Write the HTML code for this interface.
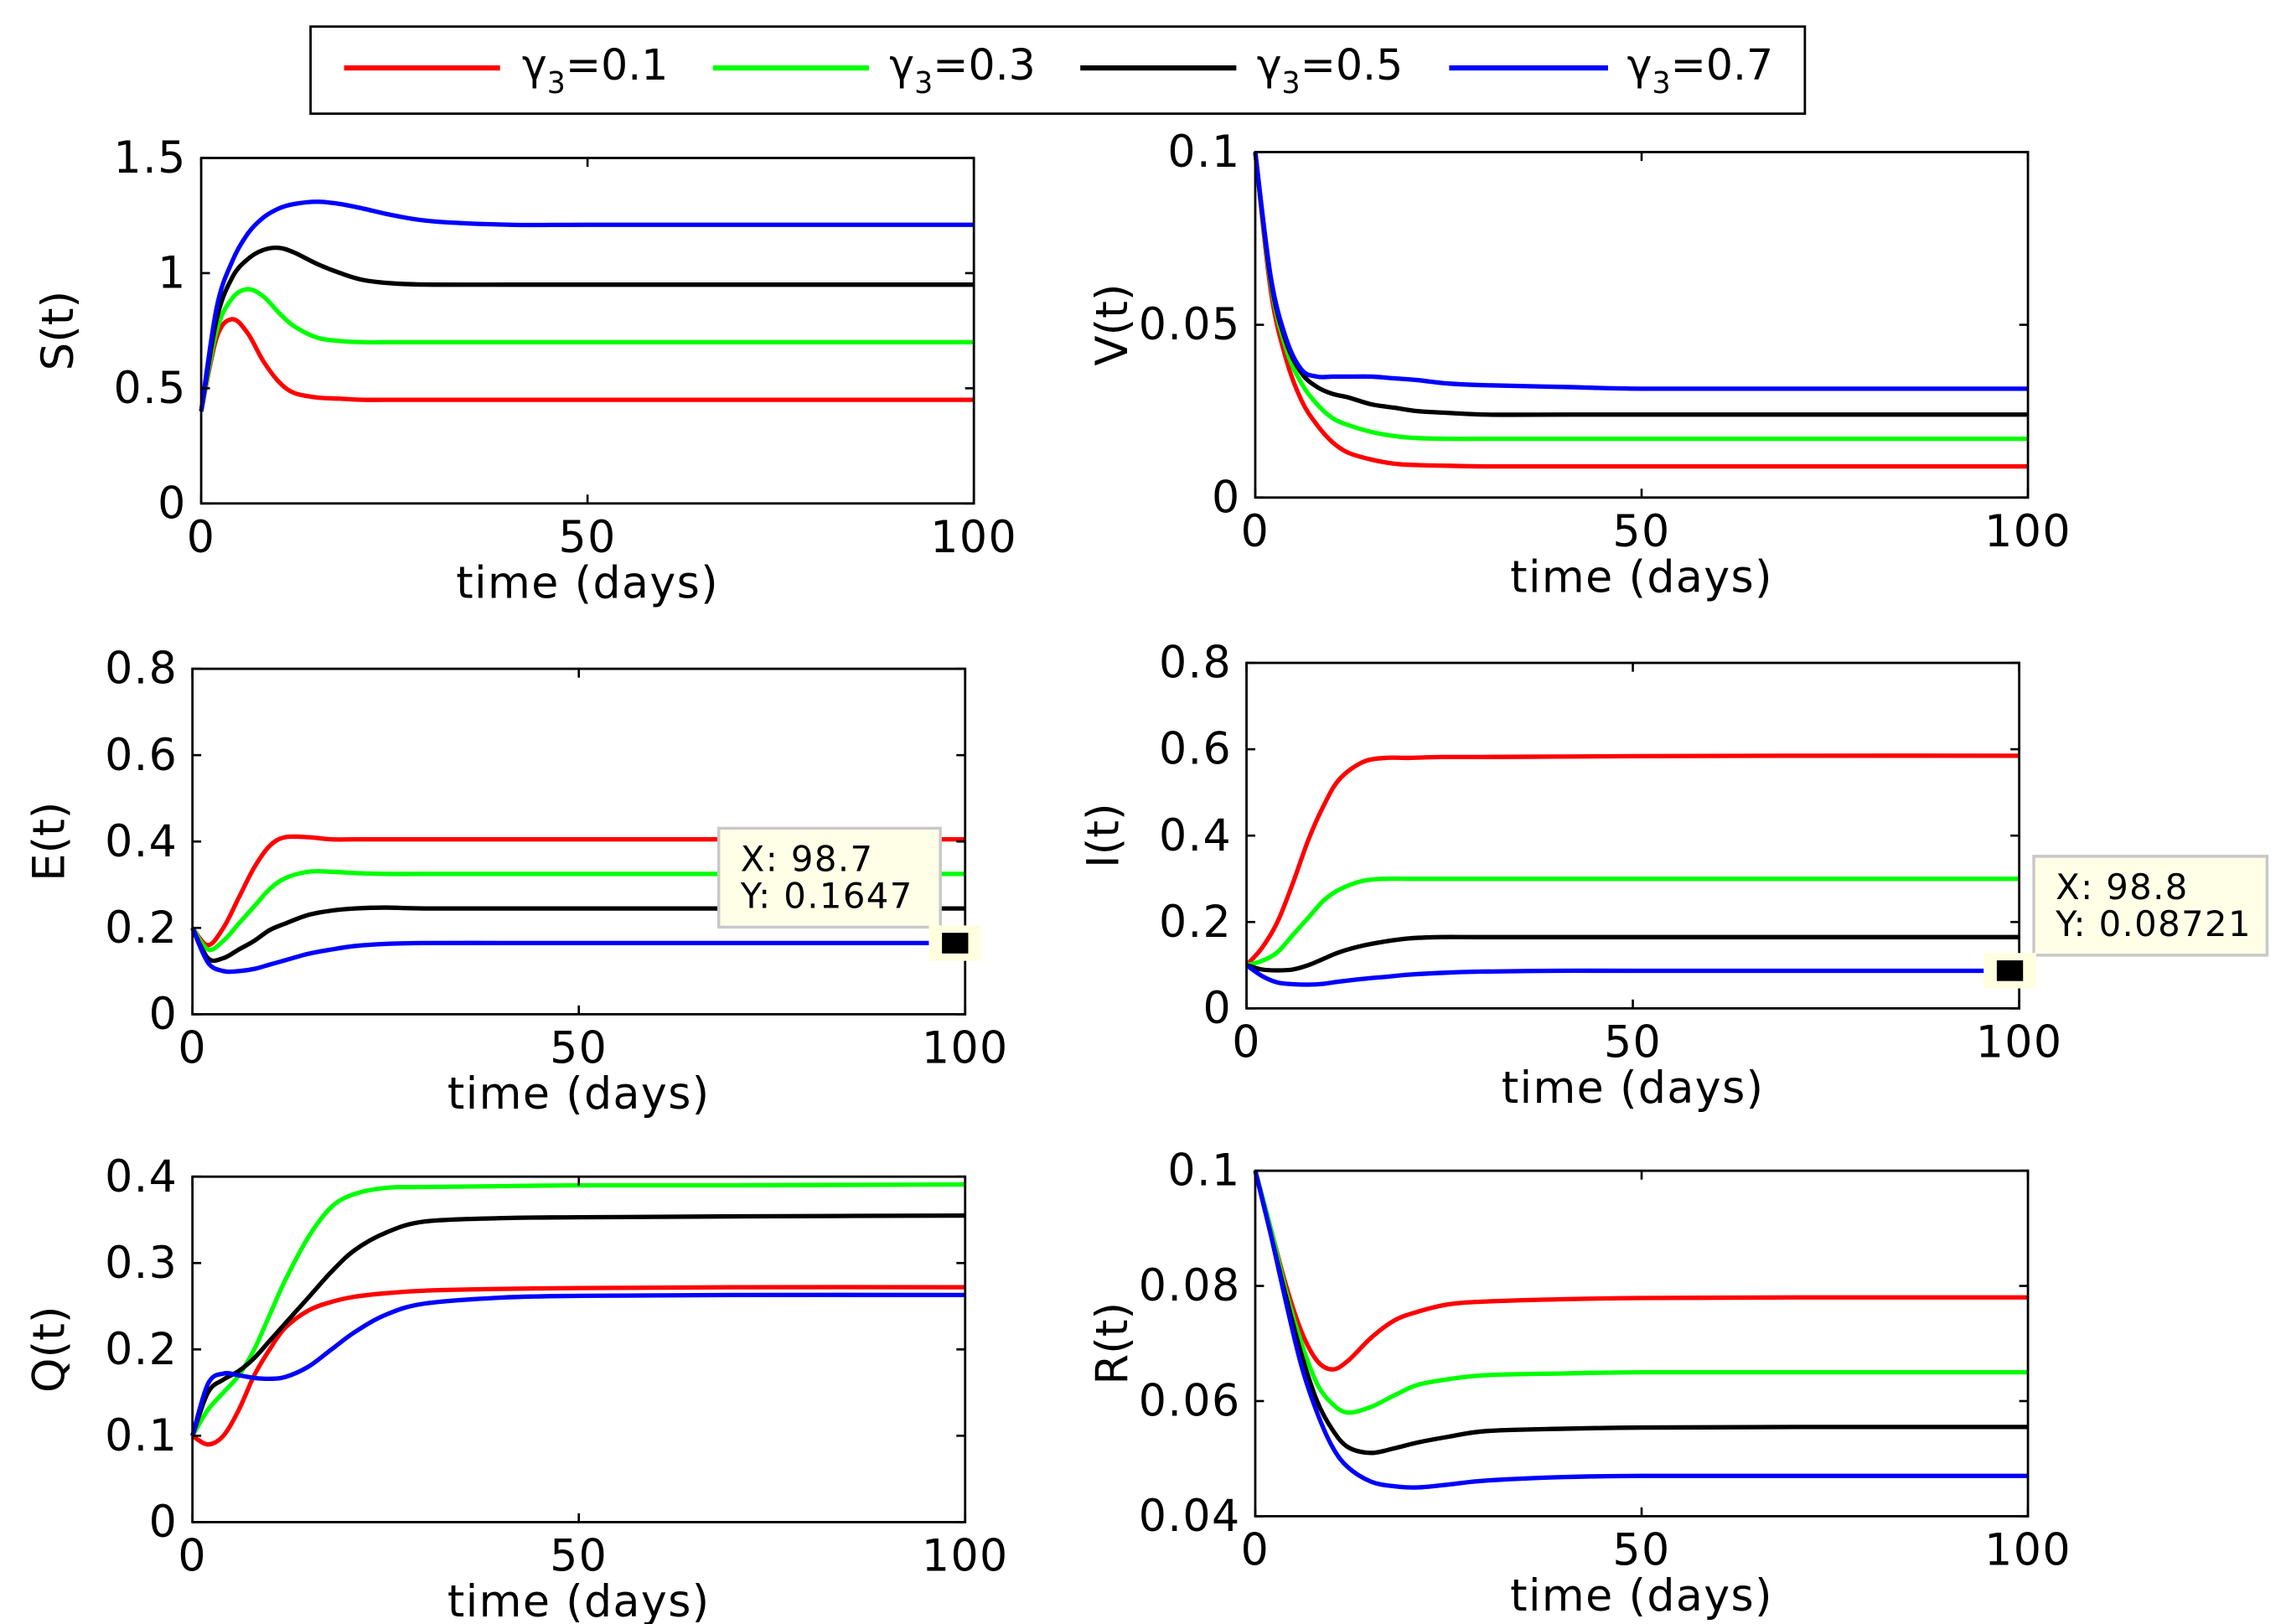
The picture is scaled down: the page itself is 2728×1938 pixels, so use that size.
<!DOCTYPE html>
<html><head><meta charset="utf-8"><style>
html,body{margin:0;padding:0;background:#fff;}
svg{display:block;}
text{font-family:"DejaVu Sans","Liberation Sans",sans-serif;fill:#000;}
</style></head><body>
<svg id="fig" width="2728" height="1938" viewBox="0 0 1568 1100" preserveAspectRatio="none" xmlns="http://www.w3.org/2000/svg">
<g id="legend">
<rect x="213" y="18" width="1025" height="59" fill="#fff" stroke="#000" stroke-width="1.6"/>
<line x1="236" y1="46" x2="343" y2="46" stroke="#ff0000" stroke-width="3.5"/>
<text x="358" y="54" font-size="29">γ<tspan font-size="20" dy="9">3</tspan><tspan dy="-9">=0.1</tspan></text>
<line x1="489" y1="46" x2="596" y2="46" stroke="#00ff00" stroke-width="3.5"/>
<text x="610" y="54" font-size="29">γ<tspan font-size="20" dy="9">3</tspan><tspan dy="-9">=0.3</tspan></text>
<line x1="741" y1="46" x2="848" y2="46" stroke="#000000" stroke-width="3.5"/>
<text x="862" y="54" font-size="29">γ<tspan font-size="20" dy="9">3</tspan><tspan dy="-9">=0.5</tspan></text>
<line x1="994" y1="46" x2="1103" y2="46" stroke="#0000ff" stroke-width="3.5"/>
<text x="1116" y="54" font-size="29">γ<tspan font-size="20" dy="9">3</tspan><tspan dy="-9">=0.7</tspan></text>
</g>
</svg>
<script>
const tDays=[0,2,4,6,8,10,12,15,18,21,25,30,40,50,70,100];
const colors=["#ff0000","#00ff00","#000000","#0000ff"];
const seriesNames=["gamma-0.1","gamma-0.3","gamma-0.5","gamma-0.7"];
const xTicks=[0,50,100];
const sTicks=[0,0.5,1,1.5];
const vTicks=[0,0.05,0.1];
const eTicks=[0,0.2,0.4,0.6,0.8];
const qTicks=[0,0.1,0.2,0.3,0.4];
const rTicks=[0.04,0.06,0.08,0.1];
const sRed=[0.4,0.72,0.8,0.74,0.62,0.53,0.48,0.46,0.455,0.45,0.45,0.45,0.45,0.45,0.45,0.45];
const sGreen=[0.4,0.75,0.89,0.93,0.9,0.83,0.77,0.72,0.705,0.7,0.7,0.7,0.7,0.7,0.7,0.7];
const sBlack=[0.4,0.8,0.98,1.06,1.1,1.11,1.09,1.04,1.0,0.97,0.955,0.95,0.95,0.95,0.95,0.95];
const sBlue=[0.4,0.85,1.05,1.17,1.24,1.28,1.3,1.31,1.3,1.28,1.25,1.225,1.21,1.21,1.21,1.21];
const vRed=[0.1,0.06,0.04,0.028,0.021,0.016,0.013,0.011,0.0098,0.0094,0.0092,0.009,0.009,0.009,0.009,0.009];
const vGreen=[0.1,0.062,0.043,0.033,0.027,0.023,0.021,0.019,0.0178,0.0172,0.017,0.017,0.017,0.017,0.017,0.017];
const vBlack=[0.1,0.063,0.045,0.036,0.032,0.03,0.029,0.027,0.026,0.025,0.0245,0.024,0.024,0.024,0.024,0.024];
const vBlue=[0.1,0.064,0.046,0.037,0.035,0.035,0.035,0.035,0.0345,0.034,0.033,0.0325,0.032,0.0315,0.0315,0.0315];
const eRed=[0.2,0.16,0.2,0.27,0.34,0.39,0.41,0.41,0.405,0.405,0.405,0.405,0.405,0.405,0.405,0.405];
const eGreen=[0.2,0.15,0.17,0.21,0.25,0.29,0.315,0.33,0.33,0.327,0.325,0.325,0.325,0.325,0.325,0.325];
const eBlack=[0.2,0.13,0.13,0.15,0.17,0.195,0.21,0.23,0.24,0.245,0.247,0.245,0.245,0.245,0.245,0.245];
const eBlue=[0.2,0.12,0.1,0.1,0.105,0.115,0.125,0.14,0.15,0.158,0.163,0.165,0.165,0.165,0.165,0.165];
const iRed=[0.1,0.14,0.2,0.29,0.39,0.47,0.53,0.57,0.58,0.58,0.582,0.582,0.583,0.584,0.585,0.585];
const iGreen=[0.1,0.11,0.13,0.17,0.21,0.25,0.275,0.295,0.3,0.3,0.3,0.3,0.3,0.3,0.3,0.3];
const iBlack=[0.1,0.09,0.088,0.09,0.1,0.115,0.13,0.145,0.155,0.162,0.165,0.165,0.165,0.165,0.165,0.165];
const iBlue=[0.1,0.075,0.06,0.056,0.055,0.057,0.062,0.068,0.073,0.078,0.082,0.085,0.087,0.087,0.087,0.087];
const qRed=[0.1,0.09,0.1,0.13,0.17,0.2,0.225,0.245,0.255,0.261,0.265,0.268,0.27,0.271,0.272,0.272];
const qGreen=[0.1,0.13,0.15,0.17,0.2,0.24,0.28,0.33,0.365,0.38,0.387,0.388,0.389,0.39,0.39,0.391];
const qBlack=[0.1,0.15,0.165,0.175,0.19,0.21,0.23,0.26,0.29,0.315,0.335,0.348,0.352,0.353,0.354,0.355];
const qBlue=[0.1,0.16,0.172,0.17,0.167,0.166,0.168,0.18,0.2,0.22,0.24,0.253,0.26,0.262,0.263,0.263];
const rRed=[0.1,0.09,0.08,0.072,0.067,0.0655,0.067,0.071,0.074,0.0755,0.0768,0.0773,0.0777,0.0779,0.078,0.078];
const rGreen=[0.1,0.09,0.079,0.07,0.063,0.0595,0.058,0.059,0.061,0.0628,0.0638,0.0645,0.0648,0.065,0.065,0.065];
const rBlack=[0.1,0.089,0.078,0.068,0.06,0.055,0.052,0.051,0.0518,0.0528,0.0538,0.0548,0.0552,0.0554,0.0555,0.0555];
const rBlue=[0.1,0.089,0.077,0.066,0.058,0.052,0.0485,0.046,0.0452,0.045,0.0455,0.0462,0.0468,0.047,0.047,0.047];

const NS="http://www.w3.org/2000/svg";
const fig=document.getElementById('fig');
function mk(tag,attrs,parent){const e=document.createElementNS(NS,tag);for(const k in attrs)e.setAttribute(k,attrs[k]);parent.appendChild(e);return e;}
function smoothPath(pts){let d="M"+pts[0][0].toFixed(2)+","+pts[0][1].toFixed(2);
 for(let i=0;i<pts.length-1;i++){const p0=pts[i-1]||pts[i],p1=pts[i],p2=pts[i+1],p3=pts[i+2]||p2;
  const c1=[p1[0]+(p2[0]-p0[0])/6,p1[1]+(p2[1]-p0[1])/6],c2=[p2[0]-(p3[0]-p1[0])/6,p2[1]-(p3[1]-p1[1])/6];
  d+=" C"+c1[0].toFixed(2)+","+c1[1].toFixed(2)+" "+c2[0].toFixed(2)+","+c2[1].toFixed(2)+" "+p2[0].toFixed(2)+","+p2[1].toFixed(2);}
 return d;}
function panel(cfg){
 const g=mk('g',{},fig);
 
 
 const {x0,x1,y0,y1,ymin,ymax}=cfg;
 const xs=v=>x0+(v-0)/100*(x1-x0);
 const ys=v=>y1-(v-ymin)/(ymax-ymin)*(y1-y0);
 cfg.series.forEach((arr,si)=>{
  const pts=tDays.map((t,i)=>[xs(t),ys(arr[i])]);
  const p=mk('path',{d:smoothPath(pts),fill:'none',stroke:colors[si],'stroke-width':3,'stroke-linejoin':'round'},g);
  
  
 });
 const box=mk('rect',{x:x0,y:y0,width:x1-x0,height:y1-y0,fill:'none',stroke:'#000','stroke-width':1.6},g);
 
 
 xTicks.forEach(v=>{const x=xs(v);
  mk('line',{x1:x,y1:y1,x2:x,y2:y1-6,stroke:'#000','stroke-width':1.5},g);
  mk('line',{x1:x,y1:y0,x2:x,y2:y0+6,stroke:'#000','stroke-width':1.5},g);
  const t=mk('text',{x:x,y:y1+33,'font-size':30,'letter-spacing':0.8,'text-anchor':'middle'},g);t.textContent=String(v);
  
  });
 cfg.ticks.forEach(v=>{const y=ys(v);
  mk('line',{x1:x0,y1:y,x2:x0+6,y2:y,stroke:'#000','stroke-width':1.5},g);
  mk('line',{x1:x1,y1:y,x2:x1-6,y2:y,stroke:'#000','stroke-width':1.5},g);
  const t=mk('text',{x:x0-10,y:y+10,'font-size':30,'letter-spacing':0.8,'text-anchor':'end'},g);t.textContent=String(v);
  
  });
 const xl=mk('text',{x:(x0+x1)/2,y:y1+64,'font-size':30,'letter-spacing':0.8,'text-anchor':'middle'},g);xl.textContent='time (days)';
 
 
 const cy=(y0+y1)/2,lx=x0-88;
 const yl=mk('text',{x:lx,y:cy,'font-size':30,'text-anchor':'middle',transform:'rotate(-90 '+lx+' '+cy+')'},g);yl.textContent=cfg.label;
 
 
 if(cfg.tip){const tp=cfg.tip;
  const tg=mk('g',{},fig);
  
  
  mk('rect',{x:tp.bx,y:tp.by,width:tp.bw,height:67,fill:'#ffffe8',stroke:'#c8c8c8','stroke-width':2},tg);
  const mx=xs(tp.x),my=ys(tp.y);
  mk('rect',{x:mx-18,y:my-12,width:36,height:24,fill:'#ffffe0'},tg);
  mk('rect',{x:mx-9,y:my-7,width:18,height:14,fill:'#000'},tg);
  const a=mk('text',{x:tp.bx+15,y:tp.by+29,'font-size':24,'letter-spacing':0.8},tg);a.textContent='X: '+tp.x;
  const b=mk('text',{x:tp.bx+15,y:tp.by+54,'font-size':24,'letter-spacing':0.8},tg);b.textContent='Y: '+tp.y;}
}
panel({name:'s',label:'S(t)',x0:138,x1:668,y0:107,y1:341,ymin:0,ymax:1.5,ticks:sTicks,series:[sRed,sGreen,sBlack,sBlue]});
panel({name:'v',label:'V(t)',x0:861,x1:1391,y0:103,y1:337,ymin:0,ymax:0.1,ticks:vTicks,series:[vRed,vGreen,vBlack,vBlue]});
panel({name:'e',label:'E(t)',x0:132,x1:662,y0:453,y1:687,ymin:0,ymax:0.8,ticks:eTicks,series:[eRed,eGreen,eBlack,eBlue],tip:{x:98.7,y:0.1647,bx:493,by:561,bw:152}});
panel({name:'i',label:'I(t)',x0:855,x1:1385,y0:449,y1:683,ymin:0,ymax:0.8,ticks:eTicks,series:[iRed,iGreen,iBlack,iBlue],tip:{x:98.8,y:0.08721,bx:1395,by:580,bw:160}});
panel({name:'q',label:'Q(t)',x0:132,x1:662,y0:797,y1:1031,ymin:0,ymax:0.4,ticks:qTicks,series:[qRed,qGreen,qBlack,qBlue]});
panel({name:'r',label:'R(t)',x0:861,x1:1391,y0:793,y1:1027,ymin:0.04,ymax:0.1,ticks:rTicks,series:[rRed,rGreen,rBlack,rBlue]});
</script>
</body></html>
